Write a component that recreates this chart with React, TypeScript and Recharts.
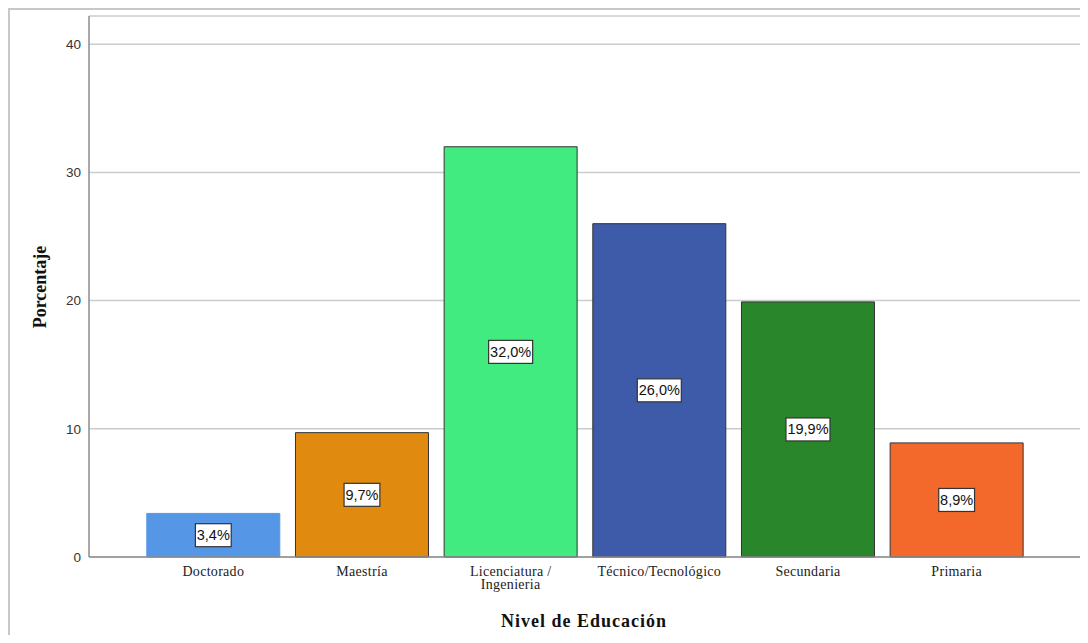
import { BarChart, Bar, XAxis, YAxis, CartesianGrid, Cell, LabelList } from 'recharts'

const niveles = ['Doctorado', 'Maestría', 'Licenciatura /\nIngenieria', 'Técnico/Tecnológico', 'Secundaria', 'Primaria']
const porcentajes = [3.4, 9.7, 32.0, 26.0, 19.9, 8.9]
const colores = ['#5596E6', '#E08A10', '#41EB7F', '#3E5BA9', '#2A862A', '#F2692B']
const yTicks = [0, 10, 20, 30, 40]

const data = niveles.map((nivel, i) => ({ nivel, pct: porcentajes[i] }))

const fmt = (v: number) => v.toFixed(1).replace('.', ',') + '%'

function XTick({ x, y, payload }: any) {
  const lines = String(payload.value).split('\n')
  return (
    <text x={x} y={y} textAnchor="middle" fill="#222" fontFamily="Liberation Serif" fontSize={14} letterSpacing={0.3}>
      {lines.map((l, i) => (
        <tspan key={i} x={x} dy={i === 0 ? 11 : 13}>{l}</tspan>
      ))}
    </text>
  )
}

function PctLabel({ x, y, width, height, value }: any) {
  const txt = fmt(value)
  const w = txt.length * 8.2 + 3
  const cx = x + width / 2
  const cy = y + height / 2
  return (
    <g>
      <rect x={cx - w / 2} y={cy - 11.5} width={w} height={23} fill="#fff" stroke="#333" strokeWidth={1.2} />
      <text x={cx} y={cy + 5} textAnchor="middle" fontFamily="Liberation Sans" fontSize={14.5} fill="#111">{txt}</text>
    </g>
  )
}

export default function App() {
  return (
    <div style={{ width: 1078, height: 625, borderTop: '2px solid #c8c8c8', borderLeft: '2px solid #c8c8c8' }}>
      <BarChart width={1078} height={625} data={data} margin={{ top: 6, right: 7, left: 0, bottom: 28 }} barCategoryGap="5.25%">
        <CartesianGrid vertical={false} stroke="#cccccc" strokeWidth={1.5} />
        <XAxis
          dataKey="nivel"
          height={50}
          interval={0}
          padding={{ left: 50, right: 50 }}
          tickLine={false}
          axisLine={{ stroke: '#8c8c8c', strokeWidth: 1.5 }}
          tick={<XTick />}
          label={{
            content: () => (
              <text x={574} y={617} textAnchor="middle" fontFamily="Liberation Serif" fontWeight="bold" fontSize={18} letterSpacing={1} fill="#111">
                Nivel de Educación
              </text>
            ),
          }}
        />
        <YAxis
          width={79}
          domain={[0, 42.2]}
          ticks={yTicks}
          tickLine={false}
          axisLine={{ stroke: '#8c8c8c', strokeWidth: 1.5 }}
          tick={{ fill: '#333', fontFamily: 'Liberation Sans', fontSize: 13.5 }}
          label={{
            content: () => (
              <text x={36} y={277} transform="rotate(-90 36 277)" textAnchor="middle" fontFamily="Liberation Serif" fontWeight="bold" fontSize={18} fill="#111">
                Porcentaje
              </text>
            ),
          }}
        />
        <Bar dataKey="pct" isAnimationActive={false}>
          {data.map((d, i) => (
            <Cell key={d.nivel} fill={colores[i]} stroke={i === 0 ? colores[i] : '#333'} strokeWidth={1} />
          ))}
          <LabelList dataKey="pct" content={<PctLabel />} />
        </Bar>
      </BarChart>
    </div>
  )
}
